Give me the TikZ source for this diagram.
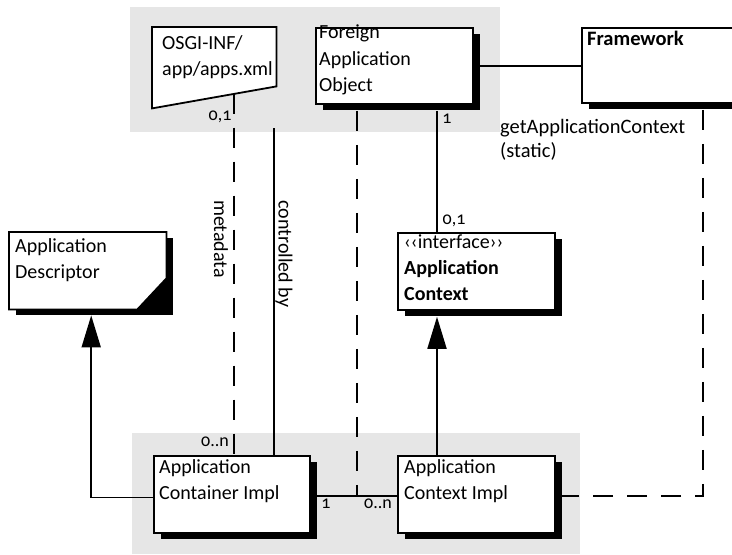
\documentclass[tikz,border=0pt]{standalone}
\usepackage{fontspec}
\setmainfont{Carlito}
\newfontfamily\lblfont[Numbers=OldStyle]{Carlito}
\usetikzlibrary{arrows.meta,shadows}
\definecolor{panelgray}{HTML}{E6E6E6}
\tikzset{
  panel/.style={fill=panelgray, draw=none, inner sep=0pt, anchor=north west},
  umlbox/.style={draw=black, fill=white, line width=1.8pt, inner sep=0pt, anchor=north west,
     general shadow={fill=black, shadow xshift=7pt, shadow yshift=-6pt}},
  plainbox/.style={draw=none, inner sep=0pt, anchor=north west},
  boxtext/.style={anchor=north west, inner sep=0pt, align=left, font=\fontsize{20}{26.5}\selectfont},
  lbl/.style={inner sep=0pt, font=\lblfont\fontsize{18}{20}\selectfont},
  conn/.style={line width=1.8pt},
  dconn/.style={line width=1.8pt, dash pattern=on 20pt off 14pt},
  inh/.style={line width=1.8pt, -{Triangle[length=32pt,width=19pt]}},
}
\begin{document}
\begin{tikzpicture}[x=1pt,y=-1pt]
\useasboundingbox (0,0) rectangle (732,555);
% panels
\node[panel, minimum width=370pt, minimum height=125pt] (toppanel) at (130,7) {};
\node[panel, minimum width=448pt, minimum height=121pt] (botpanel) at (132,433) {};
% OSGI-INF trapezoid
\node[plainbox, minimum width=124pt, minimum height=81pt] (osgi) at (152,27) {};
\draw[line width=1.8pt, fill=white] (osgi.north west) -- (osgi.north east) -- ([yshift=22pt]osgi.south east) -- (osgi.south west) -- cycle;
\node[boxtext] (osgitxt) at (162,35) {OSGI-INF/\\app/apps.xml};
\coordinate (osgiport) at (234,93.5);
% Foreign Application Object
\node[umlbox, minimum width=157pt, minimum height=76pt] (fao) at (315,27) {};
\node[boxtext] (faotxt) at (319,25) {Foreign\\Application\\Object};
% Framework
\node[umlbox, minimum width=170pt, minimum height=75pt] (fw) at (581,27) {};
\node[boxtext, font=\bfseries\fontsize{20.5}{26}\selectfont] (fwtxt) at (587,31) {Framework};
% Application Descriptor (cut corner)
\node[plainbox, minimum width=157pt, minimum height=77pt] (desc) at (9,232) {};
\fill[black] ([shift={(7pt,-6pt)}]desc.north west) rectangle ([shift={(7pt,-6pt)}]desc.south east);
\draw[line width=1.8pt, fill=white] (desc.north west) -- (desc.north east) -- ([yshift=31pt]desc.south east) -- ([xshift=-29pt]desc.south east) -- (desc.south west) -- cycle;
\node[boxtext] (desctxt) at (15,238) {Application\\Descriptor};
% Application Context interface
\node[umlbox, minimum width=157pt, minimum height=77pt] (iface) at (397,232) {};
\node[boxtext, font=\fontsize{20}{26}\selectfont] (ifacetxt) at (404,235) {‹‹interface››\\\textbf{Application}\\\textbf{Context}};
% Application Container Impl
\node[umlbox, minimum width=156pt, minimum height=77pt] (cimpl) at (153,455) {};
\node[boxtext] (cimpltxt) at (159,459) {Application\\Container Impl};
% Application Context Impl
\node[umlbox, minimum width=157pt, minimum height=77pt] (ctximpl) at (397,455) {};
\node[boxtext] (ctximpltxt) at (404,459) {Application\\Context Impl};
% helper coordinates
\coordinate (xc) at (274,0);
\coordinate (xd) at (357,0);
\coordinate (xs) at (437,0);
\coordinate (xf) at (703,0);
\coordinate (ymid) at (0,495);
% connectors
\draw[dconn] (osgiport) -- (osgiport |- cimpl.north);
\draw[conn] ([yshift=4pt]xc |- toppanel.south) -- (xc |- cimpl.north);
\draw[dconn] ([yshift=-6pt]xd |- fao.south) -- (xd |- ymid);
\draw[conn] ([yshift=-6pt]xs |- fao.south) -- (xs |- iface.north);
\draw[conn] (fao.east) -- (fao.east -| fw.west);
\draw[dconn] ([yshift=-6pt]xf |- fw.south) |- ([yshift=-1.5pt]ctximpl.east);
\draw[conn] ([yshift=-1.5pt]cimpl.east) -- ([yshift=-1.5pt]ctximpl.west);
\draw[inh] (ctximpl.north -| xs) -- ([yshift=-6pt]xs |- iface.south);
\draw[inh] ([yshift=-3pt]cimpl.west) -| ([shift={(3.5pt,-6pt)}]desc.south);
% labels
\node[lbl] (l1) at (220,117) {0,1};
\node[lbl] (l2) at (447,119) {1};
\node[lbl] (l3) at (454,221) {0,1};
\node[lbl] (l4) at (215,442) {0..n};
\node[lbl] (l5) at (326,504) {1};
\node[lbl] (l6) at (378,504) {0..n};
\node[lbl, font=\fontsize{20.5}{24}\selectfont, anchor=north west, align=left] (gac) at (500,119) {getApplicationContext\\(static)};
\node[lbl, font=\fontsize{20}{22}\selectfont, rotate=-90] (meta) at (221,239) {metadata};
\node[lbl, font=\fontsize{20}{22}\selectfont, rotate=-90] (ctrl) at (284,254) {controlled by};
\end{tikzpicture}
\end{document}
